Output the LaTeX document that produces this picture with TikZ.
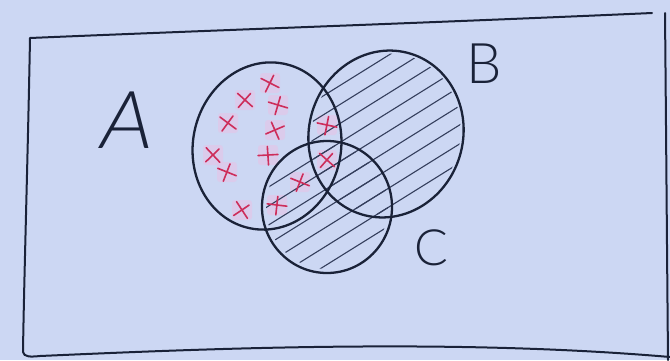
\documentclass[tikz,border=0pt]{standalone}
\usepackage{fontspec}
\newfontfamily\lab{Lato Light}
\definecolor{paper}{RGB}{204,215,243}
\definecolor{ink}{RGB}{26,34,56}
\definecolor{hatchc}{RGB}{52,62,92}
\definecolor{redx}{RGB}{205,45,90}
\definecolor{halo}{RGB}{226,198,232}
\tikzset{
  frame/.style={ink, line width=2pt},
  setline/.style={ink, line width=2.3pt},
  hatchline/.style={hatchc, line width=1.1pt},
  setlabel/.style={text=ink, inner sep=0pt, font=\lab},
}
\newcommand\venncross[3]{%
  \draw[redx,line width=1.6pt,rotate around={#3:(#1,#2)}]
    (#1-8,#2-6) -- (#1+8,#2+6) (#1-6,#2+8) -- (#1+5,#2-7);}
\begin{document}
\begin{tikzpicture}[x=1pt,y=-1pt,line cap=round,line join=round]
\fill[paper] (0,0) rectangle (670,360);
\useasboundingbox (0,0) rectangle (670,360);
% frame
\draw[frame] (652,13) .. controls (450,22) and (220,30) .. (30,38)
  .. controls (28,150) and (24,280) .. (23,352)
  .. controls (24,357) and (30,357) .. (40,356)
  .. controls (200,349) and (450,338) .. (670,357);
\draw[frame] (665,13) .. controls (666,120) and (667,250) .. (668,360);
% halos of the crosses
\foreach \px/\py in {270/83,245/100,278/105,228/123,275/130,213/155,268/155,227/172,242/210,277/205,300/182,327/125,327/160}
  \fill[halo,opacity=0.7,rounded corners=3pt] (\px-10,\py-10) rectangle (\px+10,\py+10);
% hatching in B and C
\begin{scope}
  \clip[rotate around={-17:(386,134)}] (386,134) ellipse[x radius=74, y radius=81];
  \foreach \k in {-2,...,9}
    \draw[hatchline] (230,{57+19*\k+97}) -- (490,{57+19*\k-65});
\end{scope}
\begin{scope}
  \clip (327,207) ellipse[x radius=61, y radius=62];
  \foreach \k in {1,...,14}
    \draw[hatchline] (230,{57+19*\k+97}) -- (490,{57+19*\k-65});
\end{scope}
% sets
\draw[setline,rotate around={-12:(267,146)}] (267,146) ellipse[x radius=74, y radius=84];
\draw[setline,rotate around={-17:(386,134)}] (386,134) ellipse[x radius=77, y radius=84];
\draw[setline] (327,207) ellipse[x radius=65, y radius=66];
% crosses
\venncross{270}{83}{10}
\venncross{245}{100}{-5}
\venncross{278}{105}{20}
\venncross{228}{123}{0}
\venncross{275}{130}{60}
\venncross{213}{155}{-10}
\venncross{268}{155}{40}
\venncross{227}{172}{15}
\venncross{242}{210}{-20}
\venncross{277}{205}{30}
\venncross{300}{182}{15}
\venncross{327}{125}{25}
\venncross{327}{160}{-5}
% labels
\node[setlabel, font=\lab\fontsize{80}{80}\selectfont, xslant=0.15] (labA) at (128,120) {A};
\node[setlabel, font=\lab\fontsize{56}{56}\selectfont] (labB) at (484,64) {B};
\node[setlabel, font=\lab\fontsize{50}{50}\selectfont] (labC) at (431,248) {C};
\end{tikzpicture}
\end{document}
